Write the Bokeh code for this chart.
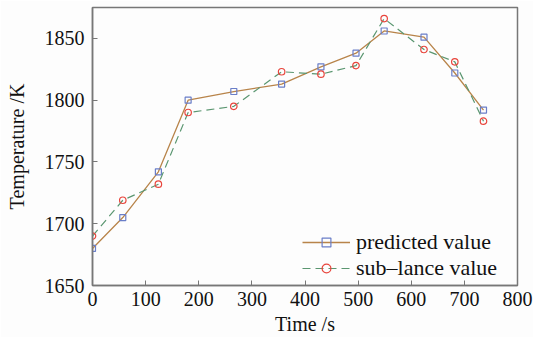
from bokeh.plotting import figure
from bokeh.models import Range1d, Legend, LegendItem, FixedTicker
from bokeh.embed import file_html
from bokeh.resources import INLINE

time_s = [0, 57, 124, 180, 266, 356, 430, 496, 549, 624, 682, 736]
predicted = [1680, 1705, 1742, 1800, 1807, 1813, 1827, 1838, 1856, 1851, 1822, 1792]
sublance = [1690, 1719, 1732, 1790, 1795, 1823, 1821, 1828, 1866, 1841, 1831, 1783]
x_ticks = [0, 100, 200, 300, 400, 500, 600, 700, 800]
y_ticks = [1650, 1700, 1750, 1800, 1850]

FONT = "'Liberation Serif', serif"

p = figure(width=533, height=337, output_backend="svg", toolbar_location=None,
           x_range=Range1d(0, 800), y_range=Range1d(1650, 1875),
           min_border_left=92, min_border_right=16, min_border_top=7, min_border_bottom=50)
p.background_fill_color = "#fdfdfd"
p.border_fill_color = "#fdfdfd"
p.outline_line_color = "#777777"
p.outline_line_width = 1.5
p.grid.visible = False

for ax in (p.xaxis[0], p.yaxis[0]):
    ax.major_tick_in = 5
    ax.major_tick_out = 0
    ax.minor_tick_in = 0
    ax.minor_tick_out = 0
    ax.axis_line_color = "#777777"
    ax.axis_line_width = 1.5
    ax.major_tick_line_color = "#777777"
    ax.major_label_text_font = FONT
    ax.major_label_text_font_size = "20px"
    ax.major_label_text_color = "#111111"
    ax.axis_label_text_font = FONT
    ax.axis_label_text_font_size = "20px"
    ax.axis_label_text_font_style = "normal"
    ax.axis_label_text_color = "#111111"

p.xaxis.ticker = FixedTicker(ticks=x_ticks)
p.yaxis.ticker = FixedTicker(ticks=y_ticks)
p.xaxis.axis_label = "Time /s"
p.yaxis.axis_label = "Temperature /K"
p.xaxis.major_label_standoff = 6
p.yaxis.major_label_standoff = 8
p.xaxis.axis_label_standoff = 4
p.yaxis.axis_label_standoff = 14

l1 = p.line(time_s, predicted, line_color="#b8844a", line_width=1.3)
m1 = p.scatter(time_s, predicted, marker="square", size=6, fill_color=None,
               line_color="#6a7ec8", line_width=1.2)
l2 = p.line(time_s, sublance, line_color="#5a9670", line_width=1.2, line_dash="8 5")
m2 = p.scatter(time_s, sublance, marker="circle", size=6.5, fill_color=None,
               line_color="#e8453c", line_width=1.2)

legend = Legend(items=[LegendItem(label="predicted value", renderers=[l1, m1]),
                       LegendItem(label="sub\u2013lance value", renderers=[l2, m2])],
                location=(206, 0))
legend.label_text_font = FONT
legend.label_text_font_size = "22px"
legend.label_text_color = "#111111"
legend.border_line_alpha = 0
legend.background_fill_alpha = 0
legend.padding = 4
legend.margin = 0
legend.spacing = -3
legend.glyph_width = 48
legend.glyph_height = 22
legend.label_height = 22
legend.label_standoff = 6
p.add_layout(legend)

open("out.html", "w").write(file_html(p, INLINE))
